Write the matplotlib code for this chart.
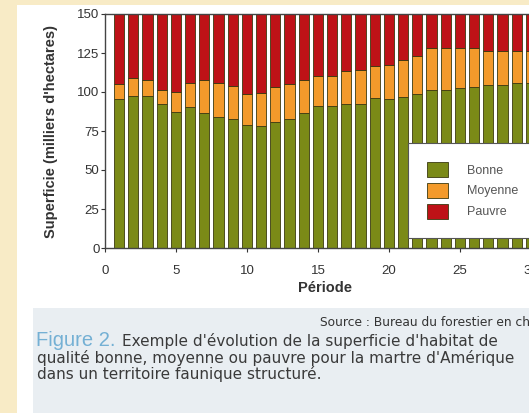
import matplotlib
matplotlib.use("Agg")
import matplotlib.pyplot as plt
from matplotlib.patches import Rectangle

plt.rcParams["font.family"] = ["Liberation Sans", "DejaVu Sans"]

# period index and habitat area (thousands of ha) per quality class
periods = list(range(1, 31))
bonne = [95.5, 97.5, 97.5, 92, 87.5, 90.5, 86.5, 84, 82.5, 79, 78.5, 81, 83, 86.5, 91,
         91, 92.5, 92.5, 96, 95.5, 96.5, 99, 101.5, 101, 102.5, 103.5, 104.5, 104.5, 105.5, 106]
moyenne_top = [105, 109, 107.5, 101.5, 100, 106, 107.5, 106, 104, 99, 99.5, 103.5, 105, 107.5, 110,
               110.5, 113.5, 114, 116.5, 117.5, 120.5, 123, 128, 128, 128, 128, 126.5, 126, 126, 126]
total = [150] * len(periods)

moyenne = [m - b for m, b in zip(moyenne_top, bonne)]
pauvre = [t - m for t, m in zip(total, moyenne_top)]

c_bonne = "#7b8a17"
c_moyenne = "#f39a2b"
c_pauvre = "#be1217"

fig = plt.figure(figsize=(5.29, 4.13), dpi=100)
fig.patch.set_facecolor("#f8ebc6")

# white page and caption panel
fig.add_artist(Rectangle((17 / 529, 0), 1, 1 - 5 / 413, transform=fig.transFigure,
                         facecolor="white", edgecolor="none", zorder=0))
fig.add_artist(Rectangle((33 / 529, 0), 1, 1 - 308 / 413, transform=fig.transFigure,
                         facecolor="#e9eef2", edgecolor="none", zorder=0))

ax = fig.add_axes([105 / 529, 1 - 248 / 413, 440 / 529, 234 / 413])
ax.bar(periods, bonne, width=0.72, color=c_bonne, edgecolor="#3a3a10", linewidth=0.6, label="Bonne")
ax.bar(periods, moyenne, bottom=bonne, width=0.72, color=c_moyenne, edgecolor="#3a3a10",
       linewidth=0.6, label="Moyenne")
ax.bar(periods, pauvre, bottom=moyenne_top, width=0.72, color=c_pauvre, edgecolor="#3a3a10",
       linewidth=0.6, label="Pauvre")

ax.set_xlim(0, 31)
ax.set_ylim(0, 150)
ax.set_xticks([0, 5, 10, 15, 20, 25, 30])
ax.set_yticks([0, 25, 50, 75, 100, 125, 150])
ax.tick_params(labelsize=9.5, length=3, width=0.8, colors="#333333")
ax.tick_params(axis="x", pad=9)
ax.tick_params(axis="y", pad=1)
for s in ax.spines.values():
    s.set_color("#444444")
    s.set_linewidth(1.0)
ax.set_xlabel("Période", fontsize=10.5, fontweight="bold", color="#333333", labelpad=3)
ax.set_ylabel("Superficie (milliers d'hectares)", fontsize=10.5, fontweight="bold",
              color="#333333", labelpad=14)

leg = ax.legend(loc="upper left", bbox_to_anchor=((408 - 105) / 440, (248 - 143) / 234),
                frameon=True, fancybox=False, framealpha=1, fontsize=9,
                handlelength=1.7, handleheight=1.5, borderpad=1.5, labelspacing=0.45,
                handletextpad=1.5, borderaxespad=0)
leg.get_frame().set_edgecolor("#555555")
leg.get_frame().set_linewidth(0.8)
for t in leg.get_texts():
    t.set_color("#555555")

fig.text(320 / 529, 1 - 323 / 413, "Source : Bureau du forestier en chef", fontsize=8.8,
         family="DejaVu Sans", color="#333333", ha="left", va="center")
fig.text(36 / 529, 1 - 341 / 413, "Figure 2.", fontsize=14.5, color="#74b0d4", va="center")
fig.text(122 / 529, 1 - 341 / 413, "Exemple d'évolution de la superficie d'habitat de",
         fontsize=11, family="DejaVu Sans", color="#3a3a3a", va="center")
fig.text(37 / 529, 1 - 358 / 413, "qualité bonne, moyenne ou pauvre pour la martre d'Amérique",
         fontsize=11, family="DejaVu Sans", color="#3a3a3a", va="center")
fig.text(37 / 529, 1 - 374 / 413, "dans un territoire faunique structuré.",
         fontsize=11, family="DejaVu Sans", color="#3a3a3a", va="center")

fig.savefig("out.png", dpi=100, facecolor=fig.get_facecolor())
